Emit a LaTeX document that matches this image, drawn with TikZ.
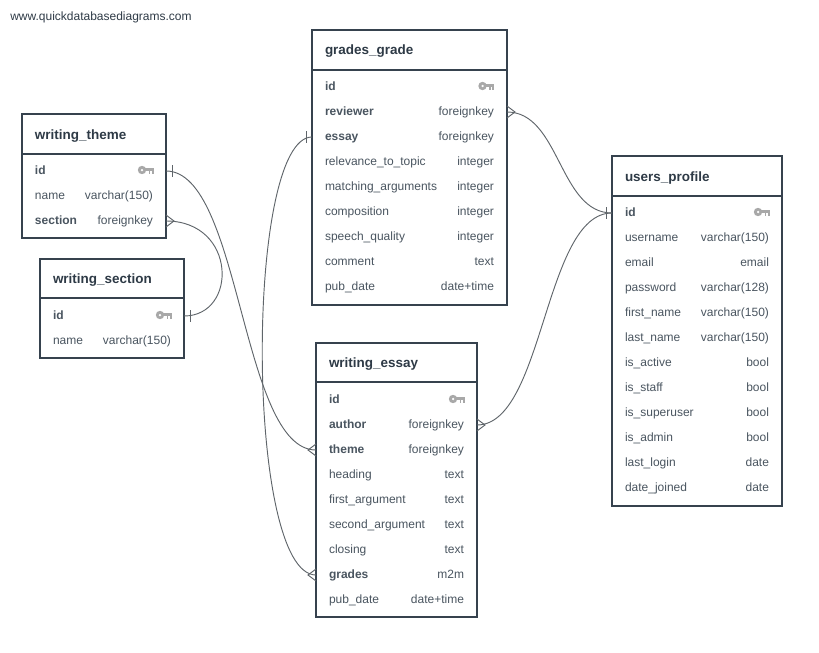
\documentclass[tikz,border=0pt]{standalone}
\usepackage{fontspec}
\setmainfont{Liberation Sans}
\usepackage{xcolor}
\definecolor{slate}{HTML}{36424E}
\definecolor{titleink}{HTML}{2E3A46}
\definecolor{rowink}{HTML}{4A5560}
\definecolor{keygrey}{HTML}{A8A8A8}
\definecolor{linkgrey}{HTML}{5F656A}
\begin{document}
\begin{tikzpicture}[x=0.75pt, y=-0.75pt,
        tablebox/.style={draw=slate, fill=white, line width=1.5pt, anchor=north west, outer sep=0pt},
        head/.style={draw=slate, line width=1.5pt, anchor=north west, outer sep=0pt, inner xsep=9.75pt, inner ysep=0pt, text width=#1, minimum height=30pt, text height=9pt, text depth=1.5pt, text=titleink, font=\fontsize{10.1}{12}\selectfont\bfseries},
        row/.style={anchor=west, outer sep=0pt, inner xsep=9.75pt, inner ysep=0pt, text width=#1, minimum height=18.75pt, text height=7.6pt, text depth=1.9pt, text=rowink, font=\fontsize{9}{11}\selectfont},
        rel/.style={draw=linkgrey, line width=0.7pt},
        onebar/.pic={\draw[rel] (6,-6) -- (6,6);},
        crowfoot/.pic={\draw[rel] (0,-6) -- (8,0) -- (0,6);},
        keyicon/.pic={
            \fill[keygrey, even odd rule] (0,0) circle (4.2) (0,0) circle (1.5);
            \fill[keygrey] (3,-1.8) rectangle (11.5,1);
            \fill[keygrey] (6.5,0) rectangle (8.3,3.6);
            \fill[keygrey] (9.5,0) rectangle (11.5,3.6);
        }
    ]
    \useasboundingbox (0,0) rectangle (819,653);

    \node[anchor=west, inner sep=0pt, text=titleink, font=\fontsize{9}{11}\selectfont] (site) at (10,17) {www.quickdatabasediagrams.com};

    % WRITING THEME
    \node[tablebox, minimum width=108pt, minimum height=93pt] (theme) at (22,114) {};
    \node[head=88.5pt] (theme-head) at (22,114) {writing\_theme};
    \node[row=88.5pt] (theme-id) at (22,171) {\textbf{id}};
    \node[row=88.5pt] (theme-name) at (22,196) {name\hfill varchar(150)};
    \node[row=88.5pt] (theme-section) at (22,221) {\textbf{section}\hfill foreignkey};
    \pic at (142,170) {keyicon};

    % WRITING SECTION
    \node[tablebox, minimum width=108pt, minimum height=74.25pt] (section) at (40,259) {};
    \node[head=88.5pt, minimum height=29.25pt] (section-head) at (40,259) {writing\_section};
    \node[row=88.5pt] (section-id) at (40,316) {\textbf{id}};
    \node[row=88.5pt] (section-name) at (40,341) {name\hfill varchar(150)};
    \pic at (160,315) {keyicon};

    % GRADES GRADE
    \node[tablebox, minimum width=146.25pt, minimum height=206.25pt] (grade) at (312,30) {};
    \node[head=126.75pt] (grade-head) at (312,30) {grades\_grade};
    \node[row=126.75pt] (grade-id) at (312,87) {\textbf{id}};
    \node[row=126.75pt] (grade-reviewer) at (312,112) {\textbf{reviewer}\hfill foreignkey};
    \node[row=126.75pt] (grade-essay) at (312,137) {\textbf{essay}\hfill foreignkey};
    \node[row=126.75pt] (grade-relevance) at (312,162) {relevance\_to\_topic\hfill integer};
    \node[row=126.75pt] (grade-matching) at (312,187) {matching\_arguments\hfill integer};
    \node[row=126.75pt] (grade-composition) at (312,212) {composition\hfill integer};
    \node[row=126.75pt] (grade-speech) at (312,237) {speech\_quality\hfill integer};
    \node[row=126.75pt] (grade-comment) at (312,262) {comment\hfill text};
    \node[row=126.75pt] (grade-date) at (312,287) {pub\_date\hfill date+time};
    \pic at (482.5,86) {keyicon};

    % WRITING ESSAY
    \node[tablebox, minimum width=120.75pt, minimum height=205.5pt] (essay) at (316,343) {};
    \node[head=101.25pt, minimum height=29.25pt] (essay-head) at (316,343) {writing\_essay};
    \node[row=101.25pt] (essay-id) at (316,400) {\textbf{id}};
    \node[row=101.25pt] (essay-author) at (316,425) {\textbf{author}\hfill foreignkey};
    \node[row=101.25pt] (essay-theme) at (316,450) {\textbf{theme}\hfill foreignkey};
    \node[row=101.25pt] (essay-heading) at (316,475) {heading\hfill text};
    \node[row=101.25pt] (essay-first) at (316,500) {first\_argument\hfill text};
    \node[row=101.25pt] (essay-second) at (316,525) {second\_argument\hfill text};
    \node[row=101.25pt] (essay-closing) at (316,550) {closing\hfill text};
    \node[row=101.25pt] (essay-grades) at (316,575) {\textbf{grades}\hfill m2m};
    \node[row=101.25pt] (essay-date) at (316,600) {pub\_date\hfill date+time};
    \pic at (453,399) {keyicon};

    % USERS PROFILE
    \node[tablebox, minimum width=127.5pt, minimum height=262.5pt] (users) at (612,156) {};
    \node[head=108pt] (users-head) at (612,156) {users\_profile};
    \node[row=108pt] (users-id) at (612,213) {\textbf{id}};
    \node[row=108pt] (users-username) at (612,238) {username\hfill varchar(150)};
    \node[row=108pt] (users-email) at (612,263) {email\hfill email};
    \node[row=108pt] (users-password) at (612,288) {password\hfill varchar(128)};
    \node[row=108pt] (users-first) at (612,313) {first\_name\hfill varchar(150)};
    \node[row=108pt] (users-last) at (612,338) {last\_name\hfill varchar(150)};
    \node[row=108pt] (users-active) at (612,363) {is\_active\hfill bool};
    \node[row=108pt] (users-staff) at (612,388) {is\_staff\hfill bool};
    \node[row=108pt] (users-super) at (612,413) {is\_superuser\hfill bool};
    \node[row=108pt] (users-admin) at (612,438) {is\_admin\hfill bool};
    \node[row=108pt] (users-login) at (612,463) {last\_login\hfill date};
    \node[row=108pt] (users-joined) at (612,488) {date\_joined\hfill date};
    \pic at (758,212) {keyicon};

    % CONNECTORS
    \draw[rel] (theme-id.east) .. controls +(75,0) and +(-75,0) .. (essay-theme.west);
    \draw[rel] (theme-section.east) .. controls +(71,0) and +(54,0) .. (section-id.east);
    \draw[rel] (grade-essay.west) .. controls +(-67,0) and +(-71,0) .. (essay-grades.west);
    \draw[rel] (grade-reviewer.east) .. controls +(53,0) and +(-53,0) .. (users-id.west);
    \draw[rel] (essay-author.east) .. controls +(67,0) and +(-68,0) .. (users-id.west);

    % ENDS
    \pic at (theme-id.east) {onebar};
    \pic at (section-id.east) {onebar};
    \pic[xscale=-1] at (grade-essay.west) {onebar};
    \pic[xscale=-1] at (users-id.west) {onebar};
    \pic at (theme-section.east) {crowfoot};
    \pic at (grade-reviewer.east) {crowfoot};
    \pic at (essay-author.east) {crowfoot};
    \pic[xscale=-1] at (essay-theme.west) {crowfoot};
    \pic[xscale=-1] at (essay-grades.west) {crowfoot};
\end{tikzpicture}
\end{document}
